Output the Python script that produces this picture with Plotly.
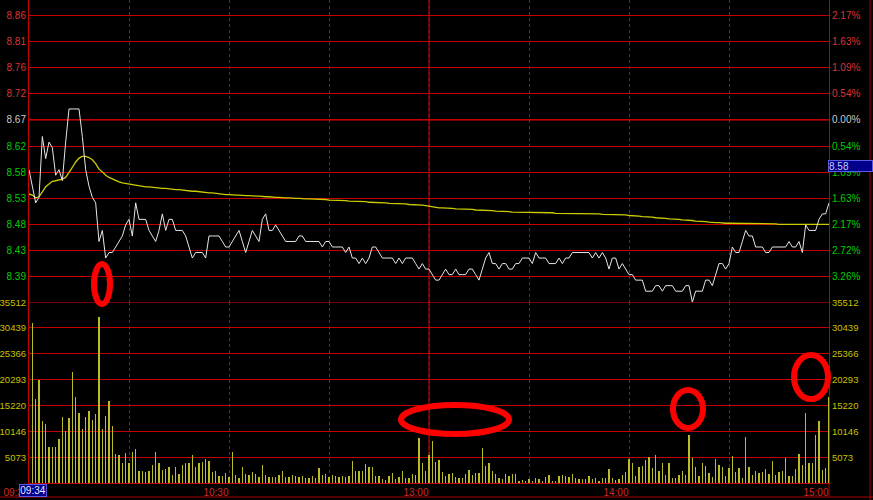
import plotly.graph_objects as go

# ---------------- data ----------------
minutes = list(range(241))  # 09:30 .. 11:30 / 13:00 .. 15:00
price = [
    8.58, 8.55, 8.52, 8.53, 8.64, 8.60, 8.63, 8.62, 8.57, 8.58,
    8.56, 8.63, 8.69, 8.69, 8.69, 8.69, 8.64, 8.58, 8.55, 8.53,
    8.52, 8.45, 8.47, 8.42, 8.43, 8.43, 8.44, 8.45, 8.46, 8.48,
    8.49, 8.46, 8.52, 8.49, 8.49, 8.49, 8.47, 8.46, 8.45, 8.47,
    8.50, 8.47, 8.49, 8.49, 8.47, 8.47, 8.47, 8.46, 8.44, 8.42,
    8.43, 8.43, 8.43, 8.42, 8.46, 8.46, 8.46, 8.46, 8.45, 8.44,
    8.44, 8.45, 8.46, 8.47, 8.45, 8.43, 8.45, 8.47, 8.46, 8.45,
    8.49, 8.50, 8.47, 8.47, 8.48, 8.47, 8.46, 8.45, 8.45, 8.45,
    8.45, 8.46, 8.46, 8.45, 8.45, 8.45, 8.45, 8.45, 8.44, 8.45,
    8.45, 8.44, 8.44, 8.44, 8.44, 8.43, 8.44, 8.42, 8.42, 8.41,
    8.42, 8.41, 8.42, 8.44, 8.44, 8.43, 8.42, 8.42, 8.42, 8.42,
    8.41, 8.42, 8.41, 8.42, 8.42, 8.42, 8.41, 8.40, 8.41, 8.40,
    8.40, 8.39, 8.38, 8.38, 8.39, 8.40, 8.39, 8.39, 8.40, 8.39,
    8.39, 8.39, 8.40, 8.40, 8.39, 8.38, 8.40, 8.42, 8.43, 8.41,
    8.41, 8.40, 8.41, 8.41, 8.40, 8.40, 8.41, 8.41, 8.42, 8.42,
    8.42, 8.41, 8.43, 8.42, 8.42, 8.42, 8.41, 8.41, 8.41, 8.42,
    8.41, 8.42, 8.42, 8.43, 8.43, 8.43, 8.43, 8.43, 8.43, 8.42,
    8.43, 8.42, 8.43, 8.42, 8.40, 8.42, 8.42, 8.40, 8.41, 8.40,
    8.39, 8.39, 8.38, 8.38, 8.38, 8.36, 8.36, 8.36, 8.37, 8.37,
    8.36, 8.37, 8.37, 8.37, 8.36, 8.36, 8.36, 8.37, 8.37, 8.34,
    8.36, 8.36, 8.36, 8.38, 8.38, 8.37, 8.39, 8.41, 8.41, 8.40,
    8.41, 8.44, 8.43, 8.43, 8.45, 8.47, 8.46, 8.46, 8.44, 8.44,
    8.44, 8.43, 8.43, 8.44, 8.44, 8.44, 8.44, 8.44, 8.45, 8.44,
    8.44, 8.45, 8.43, 8.48, 8.47, 8.47, 8.47, 8.49, 8.50, 8.50,
    8.52,
]
avg_price = [
    8.536, 8.534, 8.529, 8.531, 8.540, 8.549, 8.554, 8.559, 8.560, 8.561,
    8.563, 8.566, 8.574, 8.584, 8.594, 8.601, 8.604, 8.604, 8.602, 8.598,
    8.591, 8.581, 8.576, 8.570, 8.566, 8.563, 8.560, 8.558, 8.556, 8.555,
    8.553, 8.552, 8.551, 8.550, 8.550, 8.549, 8.549, 8.548, 8.547, 8.547,
    8.546, 8.546, 8.545, 8.545, 8.544, 8.544, 8.543, 8.543, 8.542, 8.541,
    8.541, 8.540, 8.539, 8.539, 8.538, 8.538, 8.537, 8.537, 8.536, 8.535,
    8.535, 8.534, 8.534, 8.534, 8.533, 8.533, 8.533, 8.532, 8.532, 8.532,
    8.531, 8.531, 8.531, 8.530, 8.530, 8.530, 8.529, 8.529, 8.529, 8.528,
    8.528, 8.528, 8.527, 8.527, 8.527, 8.527, 8.526, 8.526, 8.526, 8.526,
    8.525, 8.525, 8.525, 8.524, 8.524, 8.524, 8.523, 8.523, 8.523, 8.522,
    8.522, 8.522, 8.521, 8.521, 8.521, 8.520, 8.520, 8.520, 8.519, 8.519,
    8.519, 8.518, 8.518, 8.518, 8.517, 8.517, 8.517, 8.516, 8.516, 8.515,
    8.514, 8.512, 8.512, 8.511, 8.511, 8.511, 8.510, 8.510, 8.509, 8.509,
    8.509, 8.508, 8.508, 8.508, 8.507, 8.507, 8.507, 8.506, 8.506, 8.506,
    8.505, 8.505, 8.505, 8.504, 8.504, 8.503, 8.503, 8.503, 8.503, 8.503,
    8.502, 8.502, 8.502, 8.502, 8.502, 8.502, 8.502, 8.502, 8.501, 8.501,
    8.501, 8.501, 8.501, 8.501, 8.501, 8.501, 8.501, 8.500, 8.500, 8.500,
    8.500, 8.500, 8.499, 8.499, 8.499, 8.499, 8.499, 8.498, 8.498, 8.498,
    8.497, 8.497, 8.496, 8.496, 8.495, 8.495, 8.494, 8.494, 8.493, 8.493,
    8.492, 8.492, 8.491, 8.491, 8.490, 8.490, 8.489, 8.489, 8.488, 8.488,
    8.487, 8.487, 8.486, 8.486, 8.485, 8.484, 8.484, 8.484, 8.483, 8.483,
    8.483, 8.483, 8.482, 8.482, 8.482, 8.482, 8.482, 8.482, 8.482, 8.482,
    8.482, 8.482, 8.482, 8.482, 8.482, 8.481, 8.481, 8.481, 8.481, 8.481,
    8.481, 8.481, 8.481, 8.481, 8.481, 8.481, 8.481, 8.481, 8.481, 8.481,
    8.481,
]
vol_minutes = list(range(1, 241))
volume = [
    31450, 16420, 20210, 12220, 11580, 7000, 7120, 7000, 8700, 12890,
    10200, 12750, 21780, 16870, 13790, 10590, 13000, 14130, 12300, 13540,
    32510, 10590, 13150, 16030, 11180, 5690, 5430, 3980, 5890, 3980,
    6140, 6670, 2300, 2400, 2100, 2400, 3530, 6080, 3980, 2620,
    2810, 3080, 1500, 3080, 1770, 3530, 3980, 3980, 5490, 3080,
    3860, 4050, 4710, 4320, 2100, 2300, 1370, 1370, 2020, 1120,
    6080, 1510, 890, 3080, 1770, 1510, 2160, 1770, 1240, 3530,
    1510, 1240, 1120, 1240, 1640, 2350, 1120, 1240, 1640, 1370,
    1120, 1370, 890, 890, 1370, 890, 2940, 1510, 1700, 1120,
    1570, 1370, 1120, 1370, 1240, 1370, 4320, 2420, 2290, 2420,
    3730, 3200, 3080, 1370, 1370, 760, 630, 1370, 2020, 760,
    1120, 2350, 890, 890, 1770, 1640, 8830, 3980, 2420, 5430,
    8300, 4180, 4510, 2160, 1370, 1770, 1900, 1120, 890, 890,
    1770, 2550, 1640, 2020, 2020, 6800, 3340, 3860, 2420, 1770,
    890, 760, 1770, 1370, 1770, 1770, 300, 630, 400, 760,
    400, 890, 760, 400, 1120, 1510, 400, 400, 1370, 1510,
    1370, 1120, 1770, 890, 760, 760, 760, 1370, 760, 890,
    400, 890, 890, 2690, 890, 630, 760, 1540, 2130, 4740,
    3980, 1370, 3080, 3340, 4510, 5100, 2940, 5490, 2420, 3980,
    1640, 3980, 980, 980, 1570, 2350, 1640, 9420, 4970, 3080,
    1370, 3860, 3340, 2020, 1240, 4640, 3470, 3140, 1310, 2940,
    5360, 2220, 2940, 1050, 9030, 3140, 1570, 2350, 2020, 2150,
    2810, 1700, 4320, 1570, 2150, 2420, 4970, 1370, 1370, 2740,
    5690, 3470, 13790, 3980, 3980, 9420, 12160, 2500, 3000, 16800,
]
prev_close = 8.67
pct_step = 0.5435                       # % between price grid lines
price_steps = [4, 3, 2, 1, 0, -1, -2, -3, -4, -5, -6]
price_labels = ["8.86", "8.81", "8.76", "8.72", "8.67", "8.62", "8.58", "8.53", "8.48", "8.43", "8.39"]
pct_labels = ["2.17%", "1.63%", "1.09%", "0.54%", "0.00%", "0.54%", "1.09%", "1.63%", "2.17%", "2.72%", "3.26%"]
vol_ticks = [5073, 10146, 15220, 20293, 25366, 30439, 35511]
vol_labels = ["5073", "10146", "15220", "20293", "25366", "30439", "35512"]
time_ticks = [0, 30, 60, 90, 120, 150, 180, 210, 240]
time_labels = ["09:30", "", "10:30", "", "13:00", "", "14:00", "", "15:00"]
cursor_time = "09:34"
cursor_price = "8.58"

# ---------------- styling ----------------
W, H = 873, 500
ML, MR, MT, MB = 29, 44, 0, 17
PW, PH = W - ML - MR, H - MT - MB
VOL_TOP_PX = 302
split = (PH - VOL_TOP_PX) / PH          # volume panel fraction
price_lo, price_hi = 8.3404, 8.8873

RED_GRID = "#c40000"
BRIGHT_RED = "#f00000"
UP_C, FLAT_C, DN_C, VOL_C = "#dc3434", "#c8c8c8", "#00cc00", "#c8c000"
FONT = "Liberation Sans, Arial, sans-serif"


def px_x(p):
    return (p - ML) / PW


def px_y(p):
    return (PH - p) / PH


price_tickvals = [prev_close * (1 + pct_step * k / 100) for k in price_steps]


def col(k):
    return UP_C if k > 0 else (FLAT_C if k == 0 else DN_C)


price_ticktext = [f'<span style="color:{col(k)}">{t}</span>' for k, t in zip(price_steps, price_labels)]
pct_ticktext = [f'<span style="color:{col(k)}">{t}</span>' for k, t in zip(price_steps, pct_labels)]
vol_ticktext = [f'<span style="color:{VOL_C};font-size:9.5px">{t}</span>' for t in vol_labels]

fig = go.Figure()
fig.add_trace(go.Bar(x=vol_minutes, y=volume, xaxis="x", yaxis="y2", width=0.34,
                     marker=dict(color="#bcbc28", line=dict(width=0)), hoverinfo="skip"))
fig.add_trace(go.Scatter(x=minutes, y=avg_price, xaxis="x", yaxis="y", mode="lines",
                         line=dict(color="#cccc00", width=1.3), hoverinfo="skip"))
fig.add_trace(go.Scatter(x=minutes, y=price, xaxis="x", yaxis="y", mode="lines",
                         line=dict(color="#e6e6e6", width=1), hoverinfo="skip"))
# invisible helpers so the right-hand axes are rendered
fig.add_trace(go.Scatter(x=[0], y=[prev_close], xaxis="x", yaxis="y3", mode="markers",
                         marker=dict(opacity=0), hoverinfo="skip"))
fig.add_trace(go.Scatter(x=[0], y=[0], xaxis="x", yaxis="y4", mode="markers",
                         marker=dict(opacity=0), hoverinfo="skip"))

axis_common = dict(ticks="", zeroline=False, showline=True, linecolor=RED_GRID, linewidth=1,
                   tickfont=dict(family=FONT, size=10), fixedrange=True, automargin=False)

fig.update_layout(
    width=W, height=H,
    margin=dict(l=ML, r=MR, t=MT, b=MB, pad=0, autoexpand=False),
    paper_bgcolor="black", plot_bgcolor="black",
    showlegend=False, bargap=0,
    xaxis=dict(domain=[0, 1], anchor="y2", range=[0, 240], tickvals=time_ticks, ticktext=time_labels,
               showgrid=True, gridcolor="#c80000", griddash="dot", gridwidth=1,
               ticklabelposition="outside left",
               **{**axis_common, "tickfont": dict(family=FONT, size=10, color="#d02828")}),
    yaxis=dict(domain=[split, 1], anchor="x", range=[price_lo, price_hi],
               tickvals=price_tickvals, ticktext=price_ticktext,
               showgrid=True, gridcolor=RED_GRID, gridwidth=1, **axis_common),
    yaxis2=dict(domain=[0, split], anchor="x", range=[0, 35512],
                tickvals=vol_ticks, ticktext=vol_ticktext,
                showgrid=True, gridcolor=RED_GRID, gridwidth=1, **axis_common),
    yaxis3=dict(overlaying="y", side="right", anchor="x", range=[price_lo, price_hi],
                tickvals=price_tickvals, ticktext=pct_ticktext, showgrid=False, **axis_common),
    yaxis4=dict(overlaying="y2", side="right", anchor="x", range=[0, 35512],
                tickvals=vol_ticks, ticktext=vol_ticktext, showgrid=False, **axis_common),
)

shapes = []
# 13:00 solid separator
shapes.append(dict(type="line", xref="x", yref="paper", x0=120, x1=120, y0=0, y1=1,
                   line=dict(color="#d00000", width=1), layer="between"))
# bright previous-close line and volume top line
shapes.append(dict(type="line", xref="paper", yref="y", x0=0, x1=1, y0=prev_close, y1=prev_close,
                   line=dict(color=BRIGHT_RED, width=1), layer="between"))
shapes.append(dict(type="line", xref="paper", yref="y2", x0=0, x1=1, y0=35511, y1=35511,
                   line=dict(color=BRIGHT_RED, width=1), layer="between"))
# time-bar frame
shapes.append(dict(type="line", xref="paper", yref="paper", x0=px_x(0), x1=px_x(W), y0=px_y(497), y1=px_y(497),
                   line=dict(color="#b00000", width=1)))
shapes.append(dict(type="line", xref="paper", yref="paper", x0=1, x1=1, y0=px_y(497), y1=0,
                   line=dict(color="#b00000", width=1)))
shapes.append(dict(type="line", xref="paper", yref="paper", x0=px_x(870), x1=px_x(870), y0=px_y(500), y1=1,
                   line=dict(color="#b00000", width=1)))
# red hand-drawn ellipses (pixel boxes)
for (x0, x1, y0, y1) in [(94, 110, 264, 304), (401, 509, 405, 434), (673, 703, 390, 428), (794, 828, 355, 399)]:
    shapes.append(dict(type="circle", xref="paper", yref="paper",
                       x0=px_x(x0), x1=px_x(x1), y0=px_y(y1), y1=px_y(y0),
                       line=dict(color="#ff0000", width=6)))
fig.update_layout(shapes=shapes)

fig.update_layout(annotations=[
    dict(text=cursor_time, xref="paper", yref="paper", x=px_x(19), y=px_y(484), xanchor="left", yanchor="top",
         showarrow=False, bgcolor="#00008c", bordercolor="#5a5ae6", borderwidth=1, borderpad=0,
         width=26, height=11, font=dict(family=FONT, size=10, color="#e8e8ff")),
    dict(text=cursor_price, xref="paper", yref="paper", x=px_x(828), y=px_y(160), xanchor="left", yanchor="top",
         showarrow=False, bgcolor="#00008c", bordercolor="#5a5ae6", borderwidth=1, borderpad=0,
         width=43, height=10, align="left", font=dict(family=FONT, size=10, color="#c8c8ff")),
])

fig.write_html(
    "out.html",
    config={"displayModeBar": False, "staticPlot": True},
    post_script="document.body.style.margin='0px';document.body.style.padding='0px';"
                "document.body.style.overflow='hidden';document.body.style.background='black';",
)
